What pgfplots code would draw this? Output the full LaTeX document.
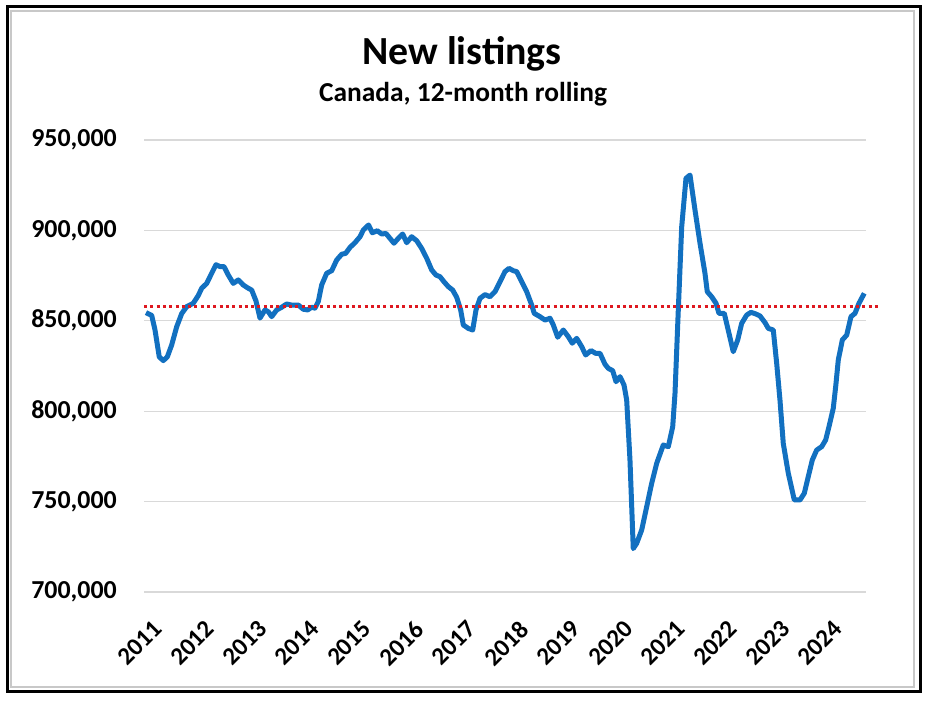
\documentclass[border=0pt]{standalone}
\usepackage{fontspec}
\setmainfont{Carlito}
\usepackage{pgfplots}
\pgfplotsset{compat=1.18}
\usepackage{pgfplotstable}

\definecolor{lineblue}{RGB}{18,112,192}
\definecolor{gridgray}{RGB}{217,217,217}
\definecolor{framegray}{RGB}{200,200,200}
\definecolor{avgred}{RGB}{222,24,32}

% 12-month rolling new listings
\pgfplotstableread{
year listings
2011.000 854500
2011.109 853000
2011.172 845000
2011.254 830000
2011.331 828000
2011.407 830000
2011.491 836600
2011.587 846700
2011.683 854000
2011.778 857800
2011.904 859700
2012.000 864000
2012.065 868000
2012.161 870700
2012.256 876300
2012.338 881000
2012.415 880000
2012.491 880000
2012.574 875300
2012.669 870700
2012.765 872600
2012.860 869800
2012.956 868000
2013.021 867000
2013.103 861000
2013.180 851500
2013.275 856000
2013.339 855000
2013.404 852300
2013.499 856000
2013.595 857500
2013.690 859300
2013.786 858700
2013.912 858700
2014.008 856400
2014.092 856000
2014.168 857500
2014.231 857000
2014.294 860600
2014.359 869800
2014.455 876300
2014.551 877700
2014.646 883600
2014.742 886800
2014.818 887300
2014.901 890600
2014.996 893200
2015.092 896500
2015.155 900200
2015.256 903000
2015.327 898700
2015.423 899800
2015.507 898000
2015.589 898300
2015.665 895600
2015.742 892900
2015.824 895600
2015.908 898000
2015.985 893200
2016.080 896500
2016.176 894300
2016.272 890000
2016.367 884600
2016.463 878100
2016.545 875300
2016.621 874400
2016.698 871600
2016.780 868900
2016.864 867000
2016.941 863000
2017.017 856000
2017.067 847700
2017.163 845800
2017.247 844900
2017.310 856000
2017.386 862400
2017.482 864500
2017.577 863300
2017.673 866100
2017.769 871600
2017.864 877200
2017.941 879000
2018.023 877700
2018.088 877200
2018.184 871600
2018.279 866100
2018.375 858700
2018.424 854100
2018.533 852300
2018.629 850400
2018.725 851400
2018.788 847700
2018.872 840900
2018.979 844900
2019.075 841200
2019.151 837600
2019.235 840300
2019.331 835700
2019.407 831100
2019.509 833500
2019.598 832000
2019.681 832000
2019.776 826000
2019.840 823700
2019.924 822400
2019.987 816300
2020.063 819100
2020.140 814500
2020.191 806200
2020.254 773000
2020.317 724000
2020.382 726900
2020.478 734300
2020.574 747200
2020.669 760100
2020.765 771200
2020.891 781300
2020.987 780400
2021.071 791400
2021.115 809900
2021.178 856000
2021.243 902000
2021.325 928800
2021.402 930600
2021.497 911300
2021.593 892900
2021.688 876300
2021.732 866100
2021.816 863300
2021.899 859700
2021.956 854100
2022.057 854100
2022.147 843100
2022.229 832900
2022.314 839400
2022.390 848600
2022.486 853200
2022.568 854700
2022.658 853800
2022.740 852700
2022.836 849000
2022.899 845800
2022.994 844900
2023.059 826500
2023.122 806200
2023.185 782200
2023.281 765700
2023.396 750900
2023.505 750900
2023.587 754600
2023.663 763800
2023.740 773000
2023.824 778500
2023.920 780400
2023.996 784100
2024.059 791400
2024.141 801600
2024.187 813500
2024.237 828300
2024.314 839400
2024.398 842100
2024.480 852300
2024.556 854100
2024.633 859700
2024.734 865200
}\listings

\begin{document}
\begin{tikzpicture}
\useasboundingbox[fill=white] (0,0) rectangle (936bp,704bp);
\draw[line width=3bp] (7bp,12bp) rectangle (920bp,697bp);
\draw[framegray, line width=1.5bp] (11bp,17bp) rectangle (914bp,693bp);
\node[font=\fontsize{40}{42}\selectfont\bfseries, anchor=base] at (462bp,639bp) {New listings};
\node[font=\fontsize{27.5}{30}\selectfont\bfseries, anchor=base] at (463bp,602bp) {Canada, 12-month rolling};
\begin{axis}[
  at={(144bp,112bp)}, anchor=south west,
  width=722bp, height=452bp, scale only axis,
  xmin=2010.962, xmax=2024.767,
  ymin=700000, ymax=950000,
  clip=false,
  axis line style={draw=none},
  tick style={draw=none},
  xtick={2011,...,2024},
  ytick={700000,750000,...,950000},
  scaled y ticks=false,
  ymajorgrids,
  grid style={gridgray, line width=1.3bp},
  /pgf/number format/assume math mode=true,
  y tick label style={font=\fontsize{26}{28}\selectfont\bfseries,
    /pgf/number format/.cd, fixed, 1000 sep={,}, /tikz/.cd,
    inner sep=0pt, xshift=-27bp},
  x tick label style={font=\fontsize{25}{27}\selectfont\bfseries,
    /pgf/number format/1000 sep={},
    xshift=6bp, yshift=-27bp, rotate=45, anchor=north east, inner sep=0pt},
]
\addplot[lineblue, line width=5bp, line join=round] table[x=year, y=listings] {\listings};
\addplot[avgred, line width=3bp, dash pattern=on 3bp off 3.3bp] coordinates {(2010.962,858000) (2025.034,858000)};
\end{axis}
\end{tikzpicture}
\end{document}
